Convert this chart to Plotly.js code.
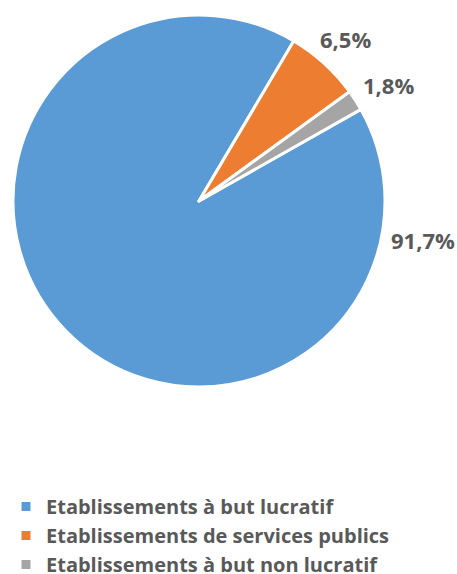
<!DOCTYPE html>
<html><head><meta charset="utf-8">
<script src="https://cdn.plot.ly/plotly-3.0.1.min.js"></script>
<style>html,body{margin:0;padding:0;background:#fff;}</style>
</head><body>
<div id="chart" style="width:457px;height:574px;"></div>
<script>
const categories = ["Etablissements à but lucratif", "Etablissements de services publics", "Etablissements à but non lucratif"];
const values = [91.7, 6.5, 1.8];
const labelText = ["91,7%", "6,5%", "1,8%"];
const colors = ["#5B9BD5", "#ED7D31", "#A5A5A5"];

const W = 457, H = 574;
const cx = 199, cy = 201, R = 186;

const labelPos = [[422.5, 240], [345, 39], [388, 85.5]];

const trace = {
  type: 'pie',
  labels: categories,
  values: values,
  sort: false,
  direction: 'clockwise',
  rotation: 60.5,
  marker: {colors: colors, line: {color: '#ffffff', width: 3}},
  textinfo: 'none',
  hoverinfo: 'none',
  domain: {x: [(cx - R) / W, (cx + R) / W], y: [1 - (cy + R) / H, 1 - (cy - R) / H]}
};

const font = 'Open Sans, Lato, sans-serif';
const annotations = labelText.map((t, i) => ({
  text: t, xref: 'paper', yref: 'paper',
  x: labelPos[i][0] / W, y: 1 - labelPos[i][1] / H,
  xanchor: 'center', yanchor: 'middle', showarrow: false,
  font: {family: font, size: 22, color: '#595959', weight: 'bold'}
}));

const layout = {
  width: W, height: H,
  margin: {l: 0, r: 0, t: 0, b: 0, autoexpand: false},
  paper_bgcolor: '#ffffff',
  showlegend: true,
  legend: {
    orientation: 'v', x: 6 / W, xanchor: 'left', y: 1 - 487 / H, yanchor: 'top',
    font: {family: font, size: 20, color: '#595959', weight: 'bold'},
    itemwidth: 30, tracegroupgap: 0
  },
  annotations: annotations
};

Plotly.newPlot('chart', [trace], layout, {displayModeBar: false, staticPlot: true});
</script>
</body></html>
